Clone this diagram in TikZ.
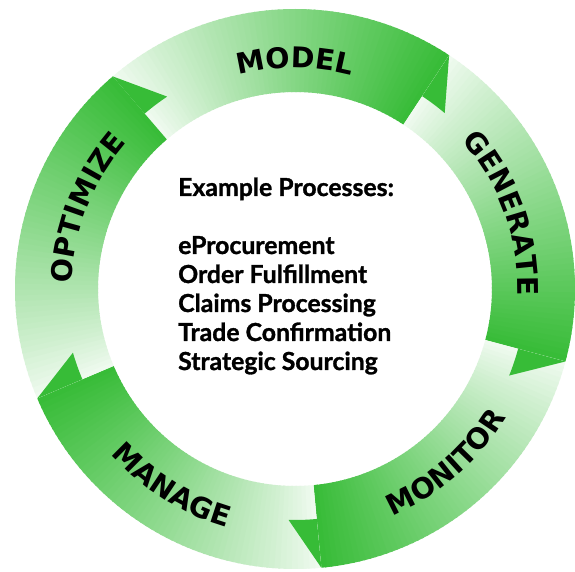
\documentclass[tikz,border=0pt]{standalone}
\usepackage{fontspec}
\usetikzlibrary{decorations.text}
\newfontfamily\lblfam{DejaVu Sans}
\newfontfamily\procfam{Lato}[BoldFeatures={FakeBold=1.2}]
\newcommand\lblfont{\lblfam\bfseries\fontsize{28.5}{28.5}\selectfont}
\newcommand\procfont{\procfam\bfseries\fontsize{24.8}{29}\selectfont}
\definecolor{greenhead}{RGB}{55,188,55}
\definecolor{greentail}{RGB}{242,251,242}
\tikzset{
  arclabel/.style={decorate, decoration={text along path, text align=center, text={|\lblfont|#1}}},
  proc/.style={anchor=base west, inner sep=0pt, font=\procfont}
}
\begin{document}
\begin{tikzpicture}[x=1pt,y=1pt]
\useasboundingbox (-295,-283) rectangle (280,289);
\fill[white] (-295,-283) rectangle (280,289);
% arrow bands with gradient (tail light -> head green)
\foreach \t/\h in {130.6/56.6, 56.6/-15, -15/-84.6, -84.6/-157, 203/130.6} {
  \foreach \i in {0,...,59} {
    \pgfmathsetmacro\aa{\t - (\t-\h)*\i/60}
    \pgfmathsetmacro\ov{(\i<59)*0.4}
    \pgfmathsetmacro\bb{\t - (\t-\h)*(\i+1)/60 - \ov}
    \pgfmathsetmacro\pc{100*((\i+0.5)/60)^0.9}
    \fill[greenhead!\pc!greentail] (\aa:280pt) arc[start angle=\aa, end angle=\bb, radius=280pt]
      -- (\bb:197pt) arc[start angle=\bb, end angle=\aa, radius=197pt] -- cycle;
  }
}
% arrow heads (outer barb)
\foreach \A in {130.6, 56.6, -15, -84.6, -157} {
  \pgfmathsetmacro\tip{\A-7}
  \fill[greenhead] (\A:280pt) -- (\tip:231pt) arc[start angle=\tip, end angle=\A, radius=231pt] -- cycle;
}
% labels
\path[arclabel=MODEL] (130:221pt) arc[start angle=130, end angle=50, radius=221pt];
\path[arclabel=GENERATE] (60:223pt) arc[start angle=60, end angle=-20, radius=223pt];
\path[arclabel=MONITOR] (-89:247pt) arc[start angle=-89, end angle=-9, radius=247pt];
\path[arclabel=MANAGE] (-162:248pt) arc[start angle=-162, end angle=-82, radius=248pt];
\path[arclabel=OPTIMIZE] (198.7:223pt) arc[start angle=198.7, end angle=118.7, radius=223pt];
% centre text
\node[proc] (ex) at (-117,93) {Example Processes:};
\node[proc] (p1) at (-117,35) {eProcurement};
\node[proc] (p2) at (-117,6) {Order Fulfillment};
\node[proc] (p3) at (-117,-23) {Claims Processing};
\node[proc] (p4) at (-117,-52) {Trade Confirmation};
\node[proc] (p5) at (-117,-81) {Strategic Sourcing};
\end{tikzpicture}
\end{document}
